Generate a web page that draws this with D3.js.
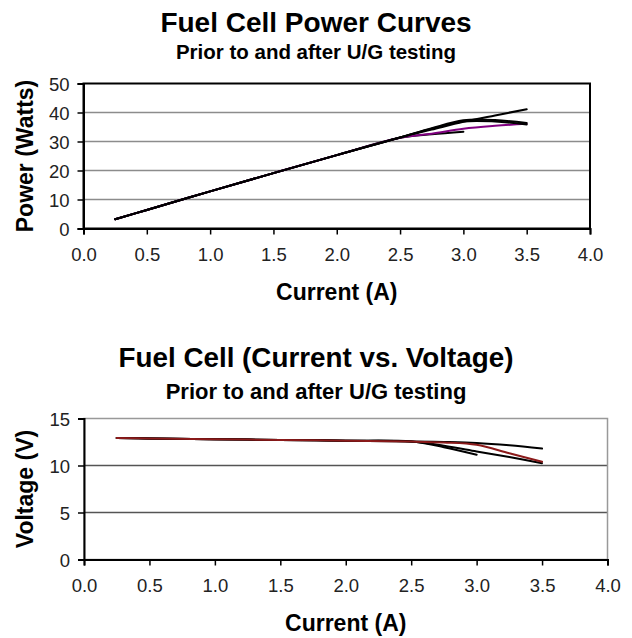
<!DOCTYPE html>
<html>
<head>
<meta charset="utf-8">
<script src="https://cdn.jsdelivr.net/npm/d3@7"></script>
<style>
  html, body { margin: 0; padding: 0; background: #fff; }
  svg { display: block; font-family: "Liberation Sans", Arial, sans-serif; }
</style>
</head>
<body>
<svg id="chart" width="632" height="638"></svg>
<script>
// Current steps (A) shared by every test run
const current = [0.25, 0.5, 1.0, 1.5, 2.0, 2.5, 2.75, 3.0, 3.25, 3.5];

// Power (W) per run; null where a run stopped early
const powerRunA = [3.2, 6.4, 12.8, 19.1, 25.3, 31.4, 34.1, 36.8, 39.0, 41.1];
const powerRunB = [3.2, 6.4, 12.8, 19.1, 25.3, 31.4, 34.6, 37.3, 37.4, 36.4];
const powerRunC = [3.2, 6.4, 12.8, 19.1, 25.3, 31.4, 34.4, 36.9, 36.9, 35.9];
const powerRunD = [3.2, 6.4, 12.8, 19.1, 25.3, 31.3, 32.7, 34.4, 35.4, 36.1];
const powerRunE = [3.2, 6.4, 12.8, 19.1, 25.3, 31.3, 32.5, 33.4, null, null];

// Voltage (V) per run
const voltRunA = [12.92, 12.88, 12.80, 12.72, 12.64, 12.55, 12.50, 12.40, 12.15, 11.80];
const voltRunB = [12.92, 12.88, 12.80, 12.72, 12.64, 12.55, 12.45, 12.20, 11.30, 10.40];
const voltRunC = [12.92, 12.88, 12.80, 12.72, 12.64, 12.55, 12.10, 11.50, 10.90, 10.25];
const voltRunD = [12.92, 12.88, 12.80, 12.72, 12.64, 12.55, 11.95, 11.15, null, null];

// Axis ticks
const xTicks = [0, 0.5, 1.0, 1.5, 2.0, 2.5, 3.0, 3.5, 4.0];
const powerTicks = [0, 10, 20, 30, 40, 50];
const voltTicks = [0, 5, 10, 15];

const svg = d3.select("#chart");

function drawPanel(opts) {
  const { left, right, top, bottom, yMax, yTicks, series, frameColor, frameWidth,
          gridColor, title, titleSize, titleY, subtitle, subSize, subY, yTitle } = opts;

  const x = d3.scaleLinear().domain([0, 4]).range([left, right]);
  const y = d3.scaleLinear().domain([0, yMax]).range([bottom, top]);
  const g = svg.append("g");

  // gridlines
  g.selectAll("line.grid")
    .data(yTicks.filter(t => t > 0 && t < yMax))
    .join("line")
    .attr("x1", left).attr("x2", right)
    .attr("y1", d => y(d)).attr("y2", d => y(d))
    .attr("stroke", gridColor).attr("stroke-width", 1.5);

  // plot frame
  g.append("rect")
    .attr("x", left).attr("y", top)
    .attr("width", right - left).attr("height", bottom - top)
    .attr("fill", "none").attr("stroke", frameColor).attr("stroke-width", frameWidth);

  // axes
  const xAxis = d3.axisBottom(x).tickValues(xTicks).tickFormat(d3.format(".1f"))
    .tickSize(6).tickPadding(9);
  const yAxis = d3.axisLeft(y).tickValues(yTicks).tickFormat(d3.format("d"))
    .tickSize(6).tickPadding(8);

  const gx = g.append("g").attr("transform", `translate(0,${bottom})`).call(xAxis);
  const gy = g.append("g").attr("transform", `translate(${left},0)`).call(yAxis);
  [gx, gy].forEach(ax => {
    ax.select(".domain").attr("stroke", "#000").attr("stroke-width", 2);
    ax.selectAll(".tick line").attr("stroke", "#000").attr("stroke-width", 1.5);
    ax.selectAll(".tick text").attr("fill", "#222").attr("font-size", 18.5);
  });
  gx.selectAll(".tick text").attr("dy", "0.95em");
  gy.selectAll(".tick text").attr("dy", "0.36em");

  // data lines
  const line = d3.line()
    .defined(d => d[1] != null)
    .x(d => x(d[0])).y(d => y(d[1]))
    .curve(d3.curveCatmullRom.alpha(0.5));

  series.forEach(s => {
    g.append("path")
      .datum(current.map((c, i) => [c, s.values[i]]))
      .attr("d", line)
      .attr("fill", "none")
      .attr("stroke", s.color)
      .attr("stroke-width", s.width || 2)
      .attr("stroke-linejoin", "round")
      .attr("stroke-linecap", "round");
  });

  // titles
  const cx = 316;
  g.append("text").attr("x", cx).attr("y", titleY)
    .attr("text-anchor", "middle").attr("font-weight", "bold")
    .attr("font-size", titleSize).attr("fill", "#000").text(title);
  g.append("text").attr("x", cx).attr("y", subY)
    .attr("text-anchor", "middle").attr("font-weight", "bold")
    .attr("font-size", subSize).attr("fill", "#000").text(subtitle);

  g.append("text")
    .attr("x", (left + right) / 2).attr("y", bottom + 71)
    .attr("text-anchor", "middle").attr("font-weight", "bold")
    .attr("font-size", 23).attr("fill", "#000").text("Current (A)");

  g.append("text")
    .attr("transform", `translate(33,${(top + bottom) / 2}) rotate(-90)`)
    .attr("text-anchor", "middle").attr("font-weight", "bold")
    .attr("font-size", 23).attr("fill", "#000").text(yTitle);
}

drawPanel({
  left: 83.5, right: 590, top: 83.5, bottom: 228.5,
  yMax: 50, yTicks: powerTicks,
  frameColor: "#000", frameWidth: 2, gridColor: "#8c8c8c",
  title: "Fuel Cell Power Curves", titleSize: 28, titleY: 32,
  subtitle: "Prior to and after U/G testing", subSize: 20.5, subY: 58.5,
  yTitle: "Power (Watts)",
  series: [
    { values: powerRunA, color: "#000" },
    { values: powerRunE, color: "#000" },
    { values: powerRunD, color: "#800080" },
    { values: powerRunC, color: "#000" },
    { values: powerRunB, color: "#000" }
  ]
});

drawPanel({
  left: 84, right: 607.5, top: 418.5, bottom: 559.5,
  yMax: 15, yTicks: voltTicks,
  frameColor: "#999", frameWidth: 1.5, gridColor: "#555",
  title: "Fuel Cell (Current vs. Voltage)", titleSize: 27.8, titleY: 367,
  subtitle: "Prior to and after U/G testing", subSize: 22, subY: 398.5,
  yTitle: "Voltage (V)",
  series: [
    { values: voltRunA, color: "#000" },
    { values: voltRunD, color: "#000" },
    { values: voltRunC, color: "#000" },
    { values: voltRunB, color: "#8b1a1a" }
  ]
});
</script>
</body>
</html>
